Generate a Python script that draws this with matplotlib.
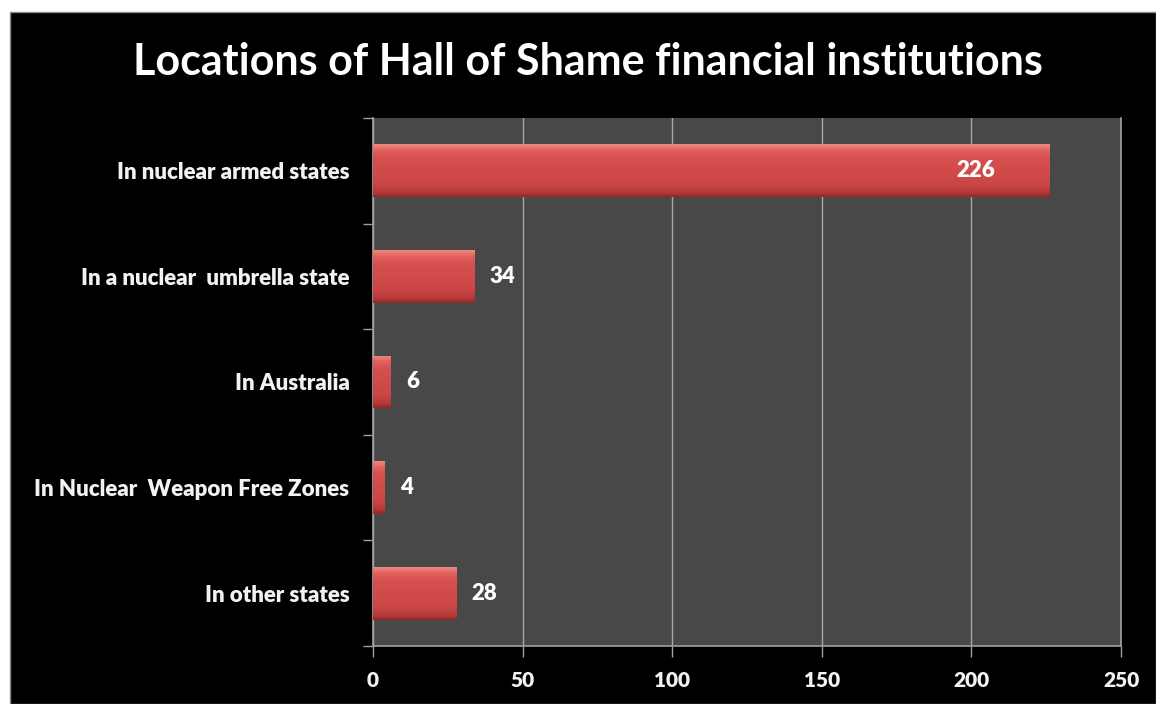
import matplotlib
matplotlib.use("Agg")
import matplotlib.pyplot as plt
import numpy as np
from matplotlib.patches import Rectangle
from matplotlib.colors import LinearSegmentedColormap

categories = ["In nuclear armed states", "In a nuclear  umbrella state", "In Australia",
              "In Nuclear  Weapon Free Zones", "In other states"]
values = [226, 34, 6, 4, 28]
xticks = [0, 50, 100, 150, 200, 250]
title = "Locations of Hall of Shame financial institutions"

FONT = "Lato"
W, H = 1156, 704
fig = plt.figure(figsize=(W / 100, H / 100), dpi=100, facecolor="white")
fig.patches.append(Rectangle((10 / W, 0), 1 - 10 / W, 1 - 12 / H, transform=fig.transFigure,
                             facecolor="black", edgecolor="#888888", linewidth=1, zorder=-10))

ax = fig.add_axes([373 / W, 1 - 646 / H, (1121 - 373) / W, (646 - 118) / H])
ax.set_facecolor("#484848")

ypos = np.arange(len(categories))
bar_h = 0.5
bars = ax.barh(ypos, values, height=bar_h, color="#d24a4a", edgecolor="none", zorder=3)

cmap = LinearSegmentedColormap.from_list("bev", [
    (0.0, "#f08a84"), (0.12, "#e2625c"), (0.25, "#d65050"),
    (0.75, "#cc4646"), (0.92, "#b43838"), (1.0, "#8c2828")])
grad = np.linspace(0, 1, 256).reshape(-1, 1)
for b in bars:
    x0, y0 = b.get_x(), b.get_y()
    w, h = b.get_width(), b.get_height()
    im = ax.imshow(grad, cmap=cmap, aspect="auto", extent=(x0, x0 + w, y0 + h, y0),
                   zorder=4, interpolation="bicubic")
    im.set_clip_path(b)

ax.set_xlim(0, 250)
ax.set_ylim(len(categories) - 0.5, -0.5)

ax.set_xticks(xticks)
ax.set_xticklabels([str(t) for t in xticks])
ax.set_yticks(ypos)
ax.set_yticklabels(categories)
ax.set_yticks(np.arange(-0.5, len(categories), 1.0), minor=True)
ax.tick_params(axis="y", which="major", length=0, pad=17, colors="white")
ax.tick_params(axis="y", which="minor", length=7, width=1, color="#a0a0a0", direction="out")
ax.tick_params(axis="x", which="major", length=8, width=1, color="#a0a0a0", direction="out",
               pad=10, colors="#a0a0a0")
for lab in ax.get_xticklabels():
    lab.set_fontfamily(FONT); lab.set_fontweight("heavy"); lab.set_fontsize(15); lab.set_color("#f2f2f2")
for lab in ax.get_yticklabels():
    lab.set_fontfamily(FONT); lab.set_fontweight("heavy"); lab.set_fontsize(16); lab.set_color("#f2f2f2")

ax.grid(axis="x", color="#a8a8a8", linewidth=1, zorder=1)
ax.set_axisbelow(True)
ax.spines["top"].set_visible(False)
for s in ["left", "bottom", "right"]:
    ax.spines[s].set_color("#a0a0a0")
    ax.spines[s].set_linewidth(1.2)

for y, v in zip(ypos, values):
    if v > 150:
        ax.text(v - 18, y, str(v), ha="right", va="center", color="white", fontsize=16,
                fontweight="heavy", family=FONT, zorder=6)
    else:
        ax.text(v + 5, y, str(v), ha="left", va="center", color="white", fontsize=16,
                fontweight="heavy", family=FONT, zorder=6)

fig.text(588 / W, 1 - 62 / H, title, ha="center", va="center", color="white",
         fontsize=31, fontweight="bold", family=FONT)

fig.savefig("out.png", dpi=100, facecolor=fig.get_facecolor())
